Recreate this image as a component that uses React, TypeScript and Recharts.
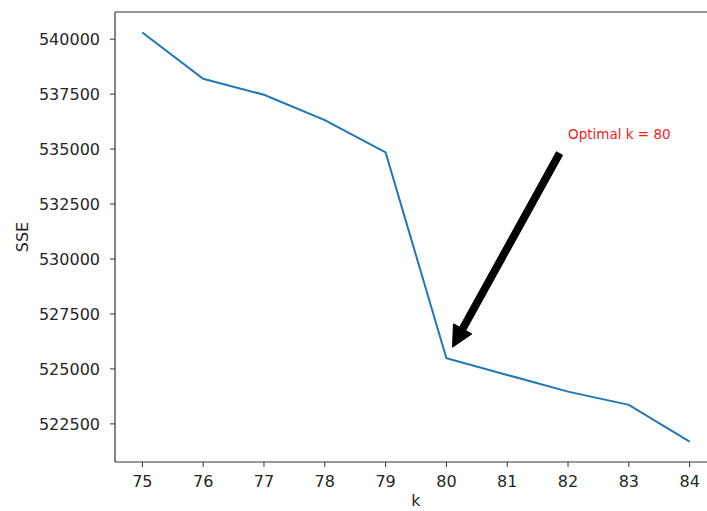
import React from 'react';
import { LineChart, Line, XAxis, YAxis, ReferenceLine, Label } from 'recharts';

const kValues = [75, 76, 77, 78, 79, 80, 81, 82, 83, 84];
const sseValues = [540305, 538195, 537470, 536318, 534850, 525486, 524727, 523968, 523364, 521696];
const xTicks = [75, 76, 77, 78, 79, 80, 81, 82, 83, 84];
const yTicks = [522500, 525000, 527500, 530000, 532500, 535000, 537500, 540000];
const annotationText = 'Optimal k = 80';
const annotationTextPoint = { x: 82, y: 535500 };
const annotationTarget = { x: 80, y: 525486 };

const data = kValues.map((k, i) => ({ k, sse: sseValues[i] }));

const FONT = '"DejaVu Sans", sans-serif';
const AXIS_COLOR = '#333';
const TEXT_COLOR = '#262626';
const X_DOMAIN: [number, number] = [74.55, 84.45];
const Y_DOMAIN: [number, number] = [520766, 541235];

const ArrowShape = (props: any) => {
  const { x1, y1, x2, y2 } = props;
  if ([x1, y1, x2, y2].some((v) => typeof v !== 'number' || isNaN(v))) return null;
  const dx = x2 - x1;
  const dy = y2 - y1;
  const len = Math.hypot(dx, dy);
  const ux = dx / len;
  const uy = dy / len;
  const nx = -uy;
  const ny = ux;
  const tx = x1 + dx * 0.07;
  const ty = y1 + dy * 0.07;
  const px = x2 - dx * 0.05;
  const py = y2 - dy * 0.05;
  const shaft = 7;
  const headW = 21;
  const headL = 21;
  const bx = px - ux * headL;
  const by = py - uy * headL;
  const pts = [
    [tx + (nx * shaft) / 2, ty + (ny * shaft) / 2],
    [bx + (nx * shaft) / 2, by + (ny * shaft) / 2],
    [bx + (nx * headW) / 2, by + (ny * headW) / 2],
    [px, py],
    [bx - (nx * headW) / 2, by - (ny * headW) / 2],
    [bx - (nx * shaft) / 2, by - (ny * shaft) / 2],
    [tx - (nx * shaft) / 2, ty - (ny * shaft) / 2],
  ]
    .map((p) => p.join(','))
    .join(' ');
  return (
    <g>
      <polygon points={pts} fill="#000" stroke="#000" strokeWidth={1} />
      <text x={x1} y={y1 + 1} fill="#f21d1d" fontSize={13.5} fontFamily={FONT} textAnchor="start">
        {annotationText}
      </text>
    </g>
  );
};

const YLabel = (props: any) => {
  const vb = props.viewBox || { x: 0, y: 12, width: 115, height: 450 };
  const cx = vb.x + 22;
  const cy = vb.y + vb.height / 2;
  return (
    <text
      x={cx}
      y={cy}
      transform={`rotate(-90 ${cx} ${cy})`}
      textAnchor="middle"
      dominantBaseline="central"
      fill={TEXT_COLOR}
      fontSize={16}
      fontFamily={FONT}
    >
      SSE
    </text>
  );
};

const XLabel = (props: any) => {
  const vb = props.viewBox || { x: 115, y: 462, width: 602, height: 49 };
  return (
    <text
      x={vb.x + vb.width / 2}
      y={vb.y + 44}
      textAnchor="middle"
      fill={TEXT_COLOR}
      fontSize={16}
      fontFamily={FONT}
    >
      k
    </text>
  );
};

export default function App() {
  return (
    <div style={{ position: 'absolute', left: 0, top: 0, width: 707, height: 511, overflow: 'hidden', background: '#fff' }}>
      <LineChart
        width={730}
        height={511}
        data={data}
        margin={{ top: 12, right: 13, bottom: 0, left: 0 }}
        style={{ fontFamily: FONT }}
      >
        <XAxis
          dataKey="k"
          type="number"
          domain={X_DOMAIN}
          allowDataOverflow
          ticks={xTicks}
          interval={0}
          height={49}
          tickSize={5}
          tickMargin={9}
          tick={{ fill: TEXT_COLOR, fontSize: 16, fontFamily: FONT }}
          tickLine={{ stroke: AXIS_COLOR }}
          axisLine={{ stroke: AXIS_COLOR, strokeWidth: 1.2 }}
        >
          <Label content={<XLabel />} />
        </XAxis>
        <YAxis
          type="number"
          domain={Y_DOMAIN}
          allowDataOverflow
          ticks={yTicks}
          interval={0}
          width={115}
          tickSize={5}
          tickMargin={10}
          tick={{ fill: TEXT_COLOR, fontSize: 16, fontFamily: FONT }}
          tickLine={{ stroke: AXIS_COLOR }}
          axisLine={{ stroke: AXIS_COLOR, strokeWidth: 1.2 }}
        >
          <Label content={<YLabel />} />
        </YAxis>
        <ReferenceLine y={Y_DOMAIN[1]} stroke={AXIS_COLOR} strokeWidth={1.2} ifOverflow="visible" />
        <Line
          type="linear"
          dataKey="sse"
          stroke="#1f77b4"
          strokeWidth={2}
          dot={false}
          activeDot={false}
          isAnimationActive={false}
        />
        <ReferenceLine
          segment={[annotationTextPoint, annotationTarget]}
          ifOverflow="visible"
          shape={ArrowShape}
        />
      </LineChart>
    </div>
  );
}
